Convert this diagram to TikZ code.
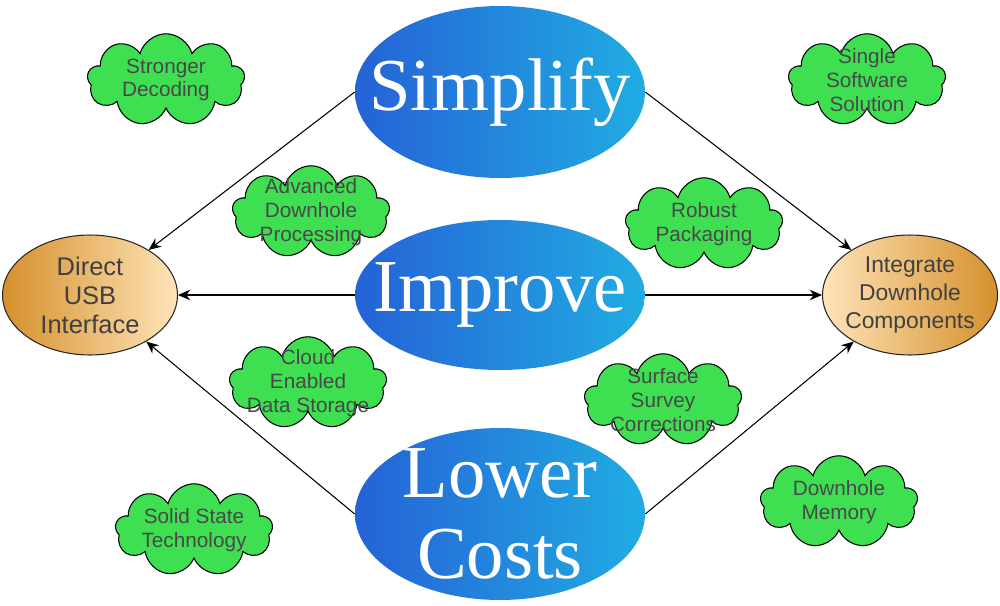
\documentclass[tikz,border=0pt]{standalone}
\usepackage{fontspec}
\setmainfont{Liberation Serif}
\setsansfont{Liberation Sans}
\usetikzlibrary{shapes.geometric,shapes.symbols,arrows.meta}
\definecolor{blueDark}{RGB}{37,98,214}
\definecolor{blueLight}{RGB}{33,172,226}
\definecolor{tanDark}{RGB}{214,144,44}
\definecolor{tanLight}{RGB}{254,228,185}
\definecolor{puffGreen}{RGB}{62,224,82}
\definecolor{puffInk}{RGB}{72,72,72}
\begin{document}
\begin{tikzpicture}[x={(0.02cm,0cm)},y={(0cm,-0.02cm)},
  goal/.style={ellipse, minimum width=5.8cm, minimum height=3.44cm, inner sep=0pt, left color=blueDark, right color=blueLight},
  goal text/.style={text=white, font=\fontsize{42.5}{46}\selectfont, align=center},
  result/.style={ellipse, draw=black!85, line width=0.6pt, minimum width=3.5cm, minimum height=2.4cm, inner sep=0pt},
  result text/.style={text=black!75, font=\sffamily\fontsize{14.5}{16.5}\selectfont, align=center},
  puff/.style={cloud, cloud puffs=9, aspect=1.7, draw=black, line width=0.6pt, fill=puffGreen, minimum width=3.15cm, minimum height=1.85cm, inner sep=0pt},
  puff text/.style={text=puffInk, font=\sffamily\fontsize{11.8}{13.5}\selectfont, align=center},
  link/.style={-{Stealth[length=7pt,width=6pt]}, line width=0.6pt}]
\useasboundingbox (0,0) rectangle (1000,605);
\node[goal, label={[goal text]center:Simplify}] (simplify) at (500,92) {};
\node[goal, minimum height=3cm, label={[goal text]center:Improve}] (improve) at (500,295) {};
\node[goal, label={[goal text]center:Lower\\Costs}] (lower) at (500,514) {};
\node[result, left color=tanDark, right color=tanLight, label={[result text]center:Direct\\USB\\Interface}] (usb) at (90,295) {};
\node[result, left color=tanLight, right color=tanDark, label={[result text, font=\sffamily\fontsize{13}{16}\selectfont]center:Integrate\\Downhole\\Components}] (integrate) at (910,295) {};
\node[puff, label={[puff text]center:Stronger\\Decoding}] (decoding) at (166,80) {};
\node[puff, label={[puff text]center:Single\\Software\\Solution}] (software) at (867,80) {};
\node[puff, label={[puff text]center:Advanced\\Downhole\\Processing}] (processing) at (311,212) {};
\node[puff, label={[puff text]center:Robust\\Packaging}] (packaging) at (704,224) {};
\node[puff, label={[puff text]center:Cloud\\Enabled\\Data Storage}] (storage) at (308,383) {};
\node[puff, label={[puff text]center:Surface\\Survey\\Corrections}] (corrections) at (663,400) {};
\node[puff, label={[puff text]center:Solid State\\Technology}] (solidstate) at (194,530) {};
\node[puff, label={[puff text]center:Downhole\\Memory}] (memory) at (839,502) {};
\draw[link] (simplify.west) -- (usb);
\draw[link] (simplify.east) -- (integrate);
\draw[link] (improve.west) -- (usb);
\draw[link] (improve.east) -- (integrate);
\draw[link] (lower.west) -- (usb);
\draw[link] (lower.east) -- (integrate);
\end{tikzpicture}
\end{document}
